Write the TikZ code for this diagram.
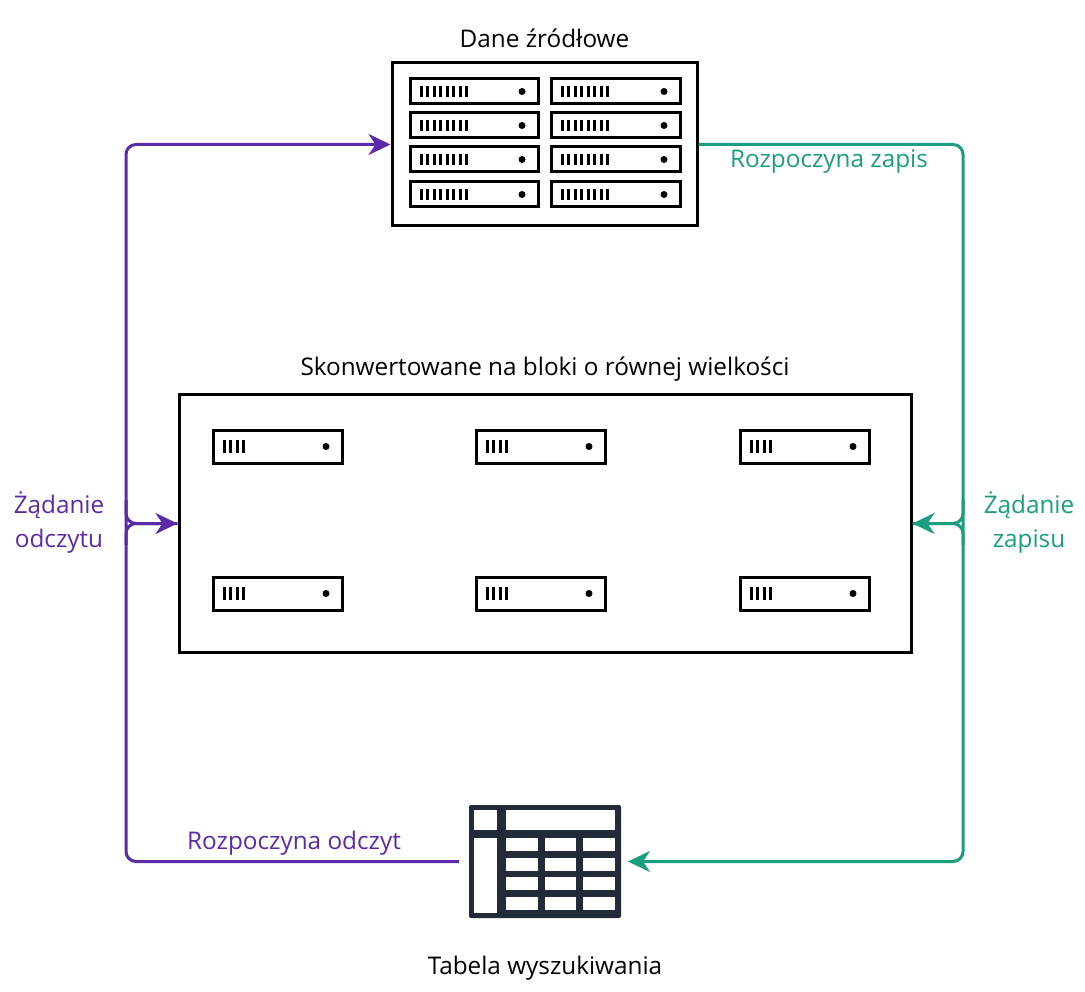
\documentclass[tikz,border=0pt]{standalone}
\usepackage{fontspec}
\setmainfont{Open Sans}
\usetikzlibrary{arrows.meta, positioning}
\definecolor{readc}{HTML}{5B2AA8}
\definecolor{writec}{HTML}{1A9E80}
\definecolor{navy}{HTML}{232B38}
\tikzset{
    frame/.style={rectangle, draw=black, line width=3pt, fill=white, inner sep=0pt},
    unit/.style={draw=black, line width=3pt, fill=white},
    caption/.style={font=\fontsize{24.3}{28}\selectfont, align=center},
    readArrow/.style={draw=readc, line width=3pt, rounded corners=10pt},
    writeArrow/.style={draw=writec, line width=3pt, rounded corners=10pt},
    tip/.style={-{Stealth[length=22pt,width=21pt,inset=7pt]}}
}
% one server unit: x, y (top left), width, number of bars
\newcommand{\srvunit}[4]{%
    \draw[unit] (#1,#2) rectangle ++(#3,25);
    \foreach \k in {1,...,#4}
        \fill (#1+3+6.5*\k,#2+7) rectangle ++(3,11);
    \fill (#1+#3-16,#2+12.5) circle (3.5);
}
\newcommand{\smallunit}[2]{%
    \draw[unit] (#1,#2) rectangle ++(129,33);
    \foreach \k in {1,...,4}
        \fill (#1+3+6.5*\k,#2+10) rectangle ++(3,13);
    \fill (#1+113,#2+16.5) circle (3.5);
}
\begin{document}
\begin{tikzpicture}[x=1pt, y=-1pt]
    \useasboundingbox (0,0) rectangle (1085,992);

    % Source data
    \node[frame, minimum width=305pt, minimum height=163pt] (rack) at (544.5,144.5) {};
    \foreach \r in {79,113,147,182} {
        \srvunit{410}{\r}{128}{8}
        \srvunit{551}{\r}{129}{8}
    }
    \node[caption, above=10pt of rack] (rackLbl) {Dane źródłowe};

    % Blocks
    \node[frame, minimum width=732pt, minimum height=257pt] (blocks) at (545,523.5) {};
    \foreach \c in {213,476,740}
        \foreach \r in {430,577}
            \smallunit{\c}{\r};
    \node[caption, above=9pt of blocks] (blocksLbl) {Skonwertowane na bloki o równej wielkości};

    % Lookup table
    \node[rectangle, fill=navy, rounded corners=2pt, minimum width=152pt, minimum height=113pt, inner sep=0pt] (table) at (545,861.5) {};
    \fill[white] (474,810) rectangle (497,830);
    \fill[white] (506,810) rectangle (615,830);
    \fill[white] (474,838) rectangle (497,913);
    \foreach \r in {838,858,877,897}
        \foreach \c/\w in {506/32,545/31,583/32}
            \fill[white] (\c,\r) rectangle ++(\w,13);
    \node[caption, below=34pt of table] (tableLbl) {Tabela wyszukiwania};

    % Read path
    \coordinate (readBend) at (126,522);
    \draw[readArrow, tip] (table.west -| 459,0) -| (readBend) |- (rack.west);
    \draw[readArrow, tip] (126,500) |- (blocks.west);
    \draw[readArrow] (126,545) |- (blocks.west);
    \node[caption, text=readc] (readStart) at (294,843) {Rozpoczyna odczyt};
    \node[caption, text=readc, font=\fontsize{24.3}{34}\selectfont] (readReq) at (59,522) {Żądanie\\odczytu};

    % Write path
    \coordinate (writeBend) at (963,522);
    \draw[writeArrow, tip] (rack.east) -| (writeBend) |- (table.east -| 628,0);
    \draw[writeArrow, tip] (963,500) |- (blocks.east);
    \draw[writeArrow] (963,545) |- (blocks.east);
    \node[caption, text=writec] (writeStart) at (829,162) {Rozpoczyna zapis};
    \node[caption, text=writec, font=\fontsize{24.3}{34}\selectfont] (writeReq) at (1029,522) {Żądanie\\zapisu};
\end{tikzpicture}
\end{document}
